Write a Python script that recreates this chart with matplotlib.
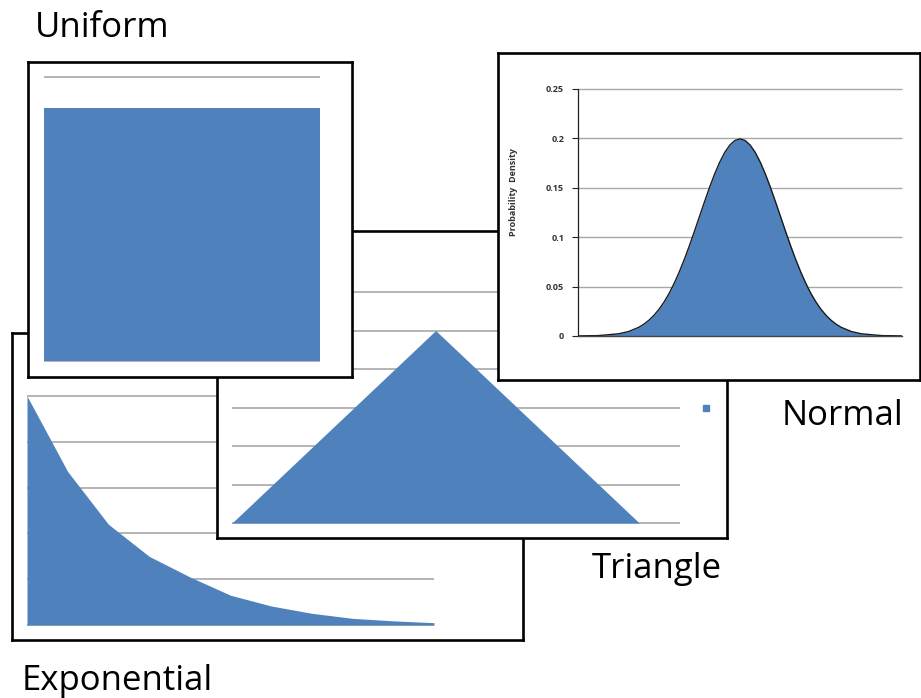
import numpy as np
import matplotlib
matplotlib.use("Agg")
import matplotlib.pyplot as plt

plt.rcParams["font.family"] = ["Open Sans", "DejaVu Sans"]

W, H = 921, 698
BLUE = "#4F81BD"
GRID = "#A8A8A8"

# --- data ---
EXP_X = list(range(11))
EXP_Y = [1.0, 0.67, 0.44, 0.30, 0.21, 0.13, 0.083, 0.051, 0.029, 0.018, 0.010]
EXP_GRID = [0, 0.2, 0.4, 0.6, 0.8, 1.0]

TRI_X = list(range(12))
TRI_Y = [0, 1, 2, 3, 4, 5, 4, 3, 2, 1, 0, 0]
TRI_GRID = [0, 1, 2, 3, 4, 5, 6]

UNI_X = [0, 1]
UNI_Y = [0.89, 0.89]
UNI_GRID = [0, 0.5, 1.0]

NORM_X = [-8, -7, -6, -5.5, -5, -4.75, -4.5, -4.25, -4, -3.75, -3.5, -3.25, -3, -2.75, -2.5,
          -2.25, -2, -1.75, -1.5, -1.25, -1, -0.75, -0.5, -0.25, 0,
          0.25, 0.5, 0.75, 1, 1.25, 1.5, 1.75, 2, 2.25, 2.5, 2.75, 3, 3.25, 3.5, 3.75, 4,
          4.25, 4.5, 4.75, 5, 5.5, 6, 7, 8]
NORM_Y = [0.0001, 0.0004, 0.0022, 0.0045, 0.0088, 0.0119, 0.0159, 0.0209, 0.0270, 0.0344,
          0.0431, 0.0533, 0.0648, 0.0775, 0.0913, 0.1059, 0.1210, 0.1360, 0.1506, 0.1641,
          0.1760, 0.1859, 0.1933, 0.1979, 0.1995,
          0.1979, 0.1933, 0.1859, 0.1760, 0.1641, 0.1506, 0.1360, 0.1210, 0.1059, 0.0913,
          0.0775, 0.0648, 0.0533, 0.0431, 0.0344, 0.0270, 0.0209, 0.0159, 0.0119, 0.0088,
          0.0045, 0.0022, 0.0004, 0.0001]
NORM_TICKS = [0, 0.05, 0.1, 0.15, 0.2, 0.25]
NORM_LABELS = ["0", "0.05", "0.1", "0.15", "0.2", "0.25"]


def rect(x0, y0, x1, y1):
    return [x0 / W, 1 - y1 / H, (x1 - x0) / W, (y1 - y0) / H]


fig = plt.figure(figsize=(W / 100, H / 100), dpi=100)
fig.patch.set_facecolor("white")


def frame(box, z):
    ax = fig.add_axes(rect(*box), zorder=z)
    ax.set_facecolor("white")
    ax.set_xticks([]); ax.set_yticks([])
    for s in ax.spines.values():
        s.set_linewidth(1.9); s.set_color("black")
    return ax


def plot_ax(box, z):
    ax = fig.add_axes(rect(*box), zorder=z)
    ax.set_facecolor("none")
    ax.set_xticks([]); ax.set_yticks([])
    for s in ax.spines.values():
        s.set_visible(False)
    return ax


# Exponential (bottom)
frame((12, 333, 523, 640), 1)
ax = plot_ax((27, 396, 434, 625), 2)
ax.set_xlim(EXP_X[0], EXP_X[-1]); ax.set_ylim(0, 1.0)
ax.hlines(EXP_GRID, EXP_X[0], EXP_X[-1], colors=GRID, lw=1.2, zorder=0, clip_on=False)
ax.fill_between(EXP_X, EXP_Y, color=BLUE, lw=0, zorder=1, clip_on=False)

# Triangle
fr = frame((217, 231, 727, 538), 3)
fr.plot([0.959], [0.423], marker="s", ms=5, color=BLUE, transform=fr.transAxes)
ax = plot_ax((232, 292, 680, 523), 4)
ax.set_xlim(TRI_X[0], TRI_X[-1]); ax.set_ylim(0, 6)
ax.hlines(TRI_GRID, TRI_X[0], TRI_X[-1], colors=GRID, lw=1.2, zorder=0, clip_on=False)
ax.fill_between(TRI_X, TRI_Y, color=BLUE, lw=0, zorder=1, clip_on=False)

# Uniform
frame((28, 62, 352, 377), 5)
ax = plot_ax((44, 77, 320, 361), 6)
ax.set_xlim(0, 1); ax.set_ylim(0, 1.0)
ax.hlines(UNI_GRID, 0, 1, colors=GRID, lw=1.2, zorder=0, clip_on=False)
ax.fill_between(UNI_X, UNI_Y, color=BLUE, lw=0, zorder=1, clip_on=False)

# Normal (top)
frame((498, 53, 920, 380), 7)
ax = plot_ax((578, 89, 902, 336), 8)
ax.set_xlim(NORM_X[0], NORM_X[-1]); ax.set_ylim(0, 0.25)
ax.hlines(NORM_TICKS[1:], NORM_X[0], NORM_X[-1], colors=GRID, lw=1.0, zorder=0, clip_on=False)
ax.fill_between(NORM_X, NORM_Y, color=BLUE, lw=0, zorder=1)
ax.plot(NORM_X, NORM_Y, color="#1a1a1a", lw=1.0, zorder=2)
ax.axhline(0, color="#444444", lw=1.0, zorder=3, clip_on=False)
ax.spines["left"].set_visible(True)
ax.spines["left"].set_color("#222222")
ax.spines["left"].set_linewidth(0.9)
ax.set_yticks(NORM_TICKS)
ax.set_yticklabels(NORM_LABELS)
ax.tick_params(axis="y", direction="out", length=4, width=0.8, pad=6,
               labelsize=6.5, labelcolor="#333333", color="#222222")
for t in ax.get_yticklabels():
    t.set_fontweight("bold")
fig.text(513 / W, 1 - 192 / H, "Probability  Density", rotation=90, ha="center", va="center",
         fontsize=6.5, fontweight="bold", color="#333333", zorder=20)

# Titles
for x, y, s in [(35, 37, "Uniform"), (782, 425, "Normal"),
                (592, 578, "Triangle"), (22, 690, "Exponential")]:
    fig.text(x / W, 1 - y / H, s, fontsize=25, ha="left", va="baseline", zorder=20)

fig.savefig("out.png", dpi=100)
